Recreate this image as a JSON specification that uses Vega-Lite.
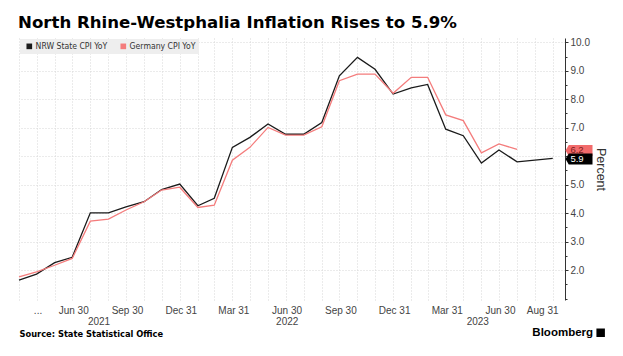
{
  "$schema": "https://vega.github.io/schema/vega-lite/v6.json",
  "width": 546,
  "height": 262,
  "autosize": {"type": "none"},
  "padding": {"left": 19, "top": 38, "right": 58, "bottom": 56},
  "background": "white",
  "title": {
    "text": "North Rhine-Westphalia Inflation Rises to 5.9%",
    "anchor": "start",
    "frame": "group",
    "font": "DejaVu Sans",
    "fontWeight": "bold",
    "fontSize": 16.6,
    "color": "#000000",
    "baseline": "alphabetic",
    "offset": 10,
    "dx": -1,
    "dy": 17
  },
  "config": {
    "view": {"stroke": null},
    "font": "Liberation Sans"
  },
  "datasets": {
    "cpi": [
      {"date": "2021-03-31", "series": "NRW State CPI YoY", "value": 1.65},
      {"date": "2021-04-30", "series": "NRW State CPI YoY", "value": 1.86},
      {"date": "2021-05-31", "series": "NRW State CPI YoY", "value": 2.26},
      {"date": "2021-06-30", "series": "NRW State CPI YoY", "value": 2.45},
      {"date": "2021-07-31", "series": "NRW State CPI YoY", "value": 4.01},
      {"date": "2021-08-31", "series": "NRW State CPI YoY", "value": 4.01},
      {"date": "2021-09-30", "series": "NRW State CPI YoY", "value": 4.22},
      {"date": "2021-10-31", "series": "NRW State CPI YoY", "value": 4.40},
      {"date": "2021-11-30", "series": "NRW State CPI YoY", "value": 4.83},
      {"date": "2021-12-31", "series": "NRW State CPI YoY", "value": 5.02},
      {"date": "2022-01-31", "series": "NRW State CPI YoY", "value": 4.26},
      {"date": "2022-02-28", "series": "NRW State CPI YoY", "value": 4.52},
      {"date": "2022-03-31", "series": "NRW State CPI YoY", "value": 6.31},
      {"date": "2022-04-30", "series": "NRW State CPI YoY", "value": 6.66},
      {"date": "2022-05-31", "series": "NRW State CPI YoY", "value": 7.13},
      {"date": "2022-06-30", "series": "NRW State CPI YoY", "value": 6.77},
      {"date": "2022-07-31", "series": "NRW State CPI YoY", "value": 6.77},
      {"date": "2022-08-31", "series": "NRW State CPI YoY", "value": 7.18},
      {"date": "2022-09-30", "series": "NRW State CPI YoY", "value": 8.82},
      {"date": "2022-10-31", "series": "NRW State CPI YoY", "value": 9.47},
      {"date": "2022-11-30", "series": "NRW State CPI YoY", "value": 9.05},
      {"date": "2022-12-31", "series": "NRW State CPI YoY", "value": 8.18},
      {"date": "2023-01-31", "series": "NRW State CPI YoY", "value": 8.40},
      {"date": "2023-02-28", "series": "NRW State CPI YoY", "value": 8.52},
      {"date": "2023-03-31", "series": "NRW State CPI YoY", "value": 6.95},
      {"date": "2023-04-30", "series": "NRW State CPI YoY", "value": 6.72},
      {"date": "2023-05-31", "series": "NRW State CPI YoY", "value": 5.76},
      {"date": "2023-06-30", "series": "NRW State CPI YoY", "value": 6.22},
      {"date": "2023-07-31", "series": "NRW State CPI YoY", "value": 5.80},
      {"date": "2023-09-30", "series": "NRW State CPI YoY", "value": 5.92},
      {"date": "2021-03-31", "series": "Germany CPI YoY", "value": 1.76},
      {"date": "2021-04-30", "series": "Germany CPI YoY", "value": 1.94},
      {"date": "2021-05-31", "series": "Germany CPI YoY", "value": 2.17},
      {"date": "2021-06-30", "series": "Germany CPI YoY", "value": 2.41},
      {"date": "2021-07-31", "series": "Germany CPI YoY", "value": 3.72},
      {"date": "2021-08-31", "series": "Germany CPI YoY", "value": 3.79},
      {"date": "2021-09-30", "series": "Germany CPI YoY", "value": 4.11},
      {"date": "2021-10-31", "series": "Germany CPI YoY", "value": 4.40},
      {"date": "2021-11-30", "series": "Germany CPI YoY", "value": 4.81},
      {"date": "2021-12-31", "series": "Germany CPI YoY", "value": 4.91},
      {"date": "2022-01-31", "series": "Germany CPI YoY", "value": 4.20},
      {"date": "2022-02-28", "series": "Germany CPI YoY", "value": 4.28},
      {"date": "2022-03-31", "series": "Germany CPI YoY", "value": 5.86},
      {"date": "2022-04-30", "series": "Germany CPI YoY", "value": 6.31},
      {"date": "2022-05-31", "series": "Germany CPI YoY", "value": 7.01},
      {"date": "2022-06-30", "series": "Germany CPI YoY", "value": 6.74},
      {"date": "2022-07-31", "series": "Germany CPI YoY", "value": 6.74},
      {"date": "2022-08-31", "series": "Germany CPI YoY", "value": 7.03},
      {"date": "2022-09-30", "series": "Germany CPI YoY", "value": 8.65},
      {"date": "2022-10-31", "series": "Germany CPI YoY", "value": 8.88},
      {"date": "2022-11-30", "series": "Germany CPI YoY", "value": 8.88},
      {"date": "2022-12-31", "series": "Germany CPI YoY", "value": 8.21},
      {"date": "2023-01-31", "series": "Germany CPI YoY", "value": 8.77},
      {"date": "2023-02-28", "series": "Germany CPI YoY", "value": 8.77},
      {"date": "2023-03-31", "series": "Germany CPI YoY", "value": 7.45},
      {"date": "2023-04-30", "series": "Germany CPI YoY", "value": 7.25},
      {"date": "2023-05-31", "series": "Germany CPI YoY", "value": 6.12},
      {"date": "2023-06-30", "series": "Germany CPI YoY", "value": 6.43},
      {"date": "2023-07-31", "series": "Germany CPI YoY", "value": 6.24}
    ],
    "tags": [
      {"series": "Germany CPI YoY", "value": 6.2, "label": "6.2"},
      {"series": "NRW State CPI YoY", "value": 5.9, "label": "5.9"}
    ],
    "brand": [
      {"label": "Bloomberg"}
    ]
  },
  "layer": [
    {
      "data": {"name": "cpi"},
      "mark": {"type": "line", "strokeWidth": 1.3, "interpolate": "linear"},
      "encoding": {
        "x": {
          "field": "date",
          "type": "temporal",
          "scale": {
            "type": "utc",
            "domain": [
              {"year": 2021, "month": 3, "date": 31, "utc": true},
              {"year": 2023, "month": 10, "date": 21, "utc": true}
            ],
            "nice": false
          },
          "axis": {
            "orient": "bottom",
            "title": null,
            "values": [
              {"year": 2021, "month": 3, "date": 31, "utc": true},
              {"year": 2021, "month": 4, "date": 30, "utc": true},
              {"year": 2021, "month": 5, "date": 31, "utc": true},
              {"year": 2021, "month": 6, "date": 30, "utc": true},
              {"year": 2021, "month": 7, "date": 31, "utc": true},
              {"year": 2021, "month": 8, "date": 31, "utc": true},
              {"year": 2021, "month": 9, "date": 30, "utc": true},
              {"year": 2021, "month": 10, "date": 31, "utc": true},
              {"year": 2021, "month": 11, "date": 30, "utc": true},
              {"year": 2021, "month": 12, "date": 31, "utc": true},
              {"year": 2022, "month": 1, "date": 31, "utc": true},
              {"year": 2022, "month": 2, "date": 28, "utc": true},
              {"year": 2022, "month": 3, "date": 31, "utc": true},
              {"year": 2022, "month": 4, "date": 30, "utc": true},
              {"year": 2022, "month": 5, "date": 31, "utc": true},
              {"year": 2022, "month": 6, "date": 30, "utc": true},
              {"year": 2022, "month": 7, "date": 31, "utc": true},
              {"year": 2022, "month": 8, "date": 31, "utc": true},
              {"year": 2022, "month": 9, "date": 30, "utc": true},
              {"year": 2022, "month": 10, "date": 31, "utc": true},
              {"year": 2022, "month": 11, "date": 30, "utc": true},
              {"year": 2022, "month": 12, "date": 31, "utc": true},
              {"year": 2023, "month": 1, "date": 31, "utc": true},
              {"year": 2023, "month": 2, "date": 28, "utc": true},
              {"year": 2023, "month": 3, "date": 31, "utc": true},
              {"year": 2023, "month": 4, "date": 30, "utc": true},
              {"year": 2023, "month": 5, "date": 31, "utc": true},
              {"year": 2023, "month": 6, "date": 30, "utc": true},
              {"year": 2023, "month": 7, "date": 31, "utc": true},
              {"year": 2023, "month": 8, "date": 31, "utc": true},
              {"year": 2023, "month": 9, "date": 30, "utc": true}
            ],
            "labelExpr": "(utcyear(datum.value) == 2021 && utcmonth(datum.value) == 3) ? '...' : (utcyear(datum.value) == 2023 && utcmonth(datum.value) == 7) ? 'Aug 31' : (utcmonth(datum.value) % 3 == 2 && !(utcyear(datum.value) == 2021 && utcmonth(datum.value) == 2) && !(utcyear(datum.value) == 2023 && utcmonth(datum.value) == 8)) ? utcFormat(datum.value, '%b %d') : ''",
            "labelOffset": {"condition": {"test": "utcyear(datum.value) == 2023 && utcmonth(datum.value) == 7", "value": 7}, "value": 1},
            "domain": false,
            "ticks": false,
            "tickSize": 0,
            "grid": true,
            "gridColor": "#d6d6d6",
            "gridDash": [1, 2],
            "gridWidth": 1,
            "labelPadding": 5,
            "labelFont": "Liberation Sans",
            "labelFontSize": 10,
            "labelColor": "#444444",
            "labelOverlap": false,
            "labelFlush": false
          }
        },
        "y": {
          "field": "value",
          "type": "quantitative",
          "title": "Percent",
          "scale": {"domain": [0.95, 10.15], "nice": false, "zero": false},
          "axis": {
            "orient": "right",
            "title": "Percent",
            "values": [2, 3, 4, 5, 6, 7, 8, 9, 10],
            "format": ".1f",
            "tickSize": 3,
            "grid": true,
            "gridColor": "#d6d6d6",
            "gridDash": [1, 2],
            "gridWidth": 1,
            "domainColor": "#333333",
            "domainWidth": 1,
            "tickColor": "#333333",
            "tickWidth": 1,
            "labelPadding": 2,
            "labelFont": "Liberation Sans",
            "labelFontSize": 10,
            "labelColor": "#444444",
            "labelOverlap": false,
            "labelFlush": false,
            "labelBound": false,
            "titleFont": "Liberation Sans",
            "titleFontSize": 12.5,
            "titleFontWeight": "normal",
            "titleColor": "#333333",
            "titleAngle": 90,
            "titlePadding": 4
          }
        },
        "color": {
          "field": "series",
          "type": "nominal",
          "scale": {
            "domain": ["NRW State CPI YoY", "Germany CPI YoY"],
            "range": ["#1a1a1a", "#f47c7c"]
          },
          "legend": {
            "title": null,
            "orient": "top-left",
            "offset": 1,
            "direction": "horizontal",
            "fillColor": "#eeeeee",
            "padding": 3,
            "symbolType": "square",
            "symbolSize": 32,
            "symbolStrokeWidth": 0,
            "symbolOffset": 2,
            "labelFont": "DejaVu Sans Condensed, Liberation Sans Narrow, Liberation Sans",
            "labelFontSize": 8.6,
            "labelColor": "#333333",
            "labelOffset": 2,
            "columnPadding": 9,
            "encode": {
              "symbols": {
                "update": {
                  "fill": {"scale": "color", "field": "value"},
                  "opacity": {"value": 1}
                }
              }
            }
          }
        }
      }
    },
    {
      "data": {"name": "tags"},
      "transform": [{"filter": "datum.series == 'Germany CPI YoY'"}],
      "mark": {"type": "point", "shape": "M-1,0L-0.76,-0.41L1,-0.41L1,0.41L-0.76,0.41Z", "filled": true, "size": 729, "color": "#f26b6b", "opacity": 1, "strokeWidth": 0},
      "encoding": {
        "x": {"datum": {"year": 2023, "month": 11, "date": 14, "utc": true}, "type": "temporal", "scale": {"type": "utc", "domain": [{"year": 2021, "month": 3, "date": 31, "utc": true}, {"year": 2023, "month": 10, "date": 21, "utc": true}], "nice": false}, "axis": null},
        "y": {
          "field": "value",
          "type": "quantitative",
          "title": null,
          "scale": {"domain": [0.95, 10.15], "nice": false, "zero": false},
          "axis": {
            "orient": "right",
            "title": null,
            "values": [1, 1.5, 2.5, 3.5, 4.5, 5.5, 6.5, 7.5, 8.5, 9.5],
            "labels": false,
            "grid": false,
            "domain": false,
            "ticks": true,
            "tickSize": 2,
            "tickColor": "#333333",
            "tickWidth": 1
          }
        }
      }
    },
    {
      "data": {"name": "tags"},
      "transform": [{"filter": "datum.series == 'Germany CPI YoY'"}],
      "mark": {"type": "text", "color": "#7a1c1c", "font": "Liberation Sans", "fontSize": 9.5, "dx": -2, "align": "center", "baseline": "middle"},
      "encoding": {
        "x": {"datum": {"year": 2023, "month": 11, "date": 14, "utc": true}, "type": "temporal", "scale": {"type": "utc", "domain": [{"year": 2021, "month": 3, "date": 31, "utc": true}, {"year": 2023, "month": 10, "date": 21, "utc": true}], "nice": false}, "axis": null},
        "y": {"field": "value", "type": "quantitative", "scale": {"domain": [0.95, 10.15], "nice": false, "zero": false}, "axis": null},
        "text": {"field": "label"}
      }
    },
    {
      "data": {"name": "tags"},
      "transform": [{"filter": "datum.series == 'NRW State CPI YoY'"}],
      "mark": {"type": "point", "shape": "M-1,0L-0.76,-0.41L1,-0.41L1,0.41L-0.76,0.41Z", "filled": true, "size": 729, "color": "#000000", "opacity": 1, "strokeWidth": 0},
      "encoding": {
        "x": {"datum": {"year": 2023, "month": 11, "date": 14, "utc": true}, "type": "temporal", "scale": {"type": "utc", "domain": [{"year": 2021, "month": 3, "date": 31, "utc": true}, {"year": 2023, "month": 10, "date": 21, "utc": true}], "nice": false}, "axis": null},
        "y": {"field": "value", "type": "quantitative", "scale": {"domain": [0.95, 10.15], "nice": false, "zero": false}, "axis": null}
      }
    },
    {
      "data": {"name": "tags"},
      "transform": [{"filter": "datum.series == 'NRW State CPI YoY'"}],
      "mark": {"type": "text", "color": "#ffffff", "font": "Liberation Sans", "fontSize": 9.5, "dx": -2, "align": "center", "baseline": "middle"},
      "encoding": {
        "x": {"datum": {"year": 2023, "month": 11, "date": 14, "utc": true}, "type": "temporal", "scale": {"type": "utc", "domain": [{"year": 2021, "month": 3, "date": 31, "utc": true}, {"year": 2023, "month": 10, "date": 21, "utc": true}], "nice": false}, "axis": null},
        "y": {"field": "value", "type": "quantitative", "scale": {"domain": [0.95, 10.15], "nice": false, "zero": false}, "axis": null},
        "text": {"field": "label"}
      }
    },
    {
      "data": {"name": "brand"},
      "mark": {"type": "text", "align": "right", "baseline": "middle", "font": "Liberation Sans", "fontWeight": "bold", "fontSize": 11.5, "color": "#000000"},
      "encoding": {
        "x": {
          "datum": {"year": 2023, "month": 12, "date": 8, "utc": true},
          "type": "temporal",
          "scale": {"type": "utc", "domain": [{"year": 2021, "month": 3, "date": 31, "utc": true}, {"year": 2023, "month": 10, "date": 21, "utc": true}], "nice": false},
          "axis": {
            "orient": "bottom",
            "values": [
              {"year": 2021, "month": 8, "date": 14, "utc": true},
              {"year": 2022, "month": 7, "date": 2, "utc": true},
              {"year": 2023, "month": 5, "date": 24, "utc": true}
            ],
            "labelExpr": "utcFormat(datum.value, '%Y')",
            "domain": false,
            "ticks": false,
            "tickSize": 0,
            "grid": false,
            "labelPadding": 16,
            "labelFont": "Liberation Sans",
            "labelFontSize": 10,
            "labelColor": "#444444",
            "labelOverlap": false,
            "labelFlush": false,
            "title": "Source: State Statistical Office",
            "titleAnchor": "start",
            "titleAlign": "left",
            "titleFont": "DejaVu Sans",
            "titleFontWeight": "bold",
            "titleFontSize": 8.3,
            "titleColor": "#000000",
            "titlePadding": 3
          }
        },
        "y": {"datum": -0.2, "type": "quantitative", "scale": {"domain": [0.95, 10.15], "nice": false, "zero": false}, "axis": null},
        "text": {"field": "label"}
      }
    },
    {
      "data": {"name": "brand"},
      "mark": {"type": "point", "shape": "square", "filled": true, "size": 72, "color": "#000000", "opacity": 1},
      "encoding": {
        "x": {"datum": {"year": 2023, "month": 12, "date": 21, "utc": true}, "type": "temporal", "scale": {"type": "utc", "domain": [{"year": 2021, "month": 3, "date": 31, "utc": true}, {"year": 2023, "month": 10, "date": 21, "utc": true}], "nice": false}, "axis": null},
        "y": {"datum": -0.2, "type": "quantitative", "scale": {"domain": [0.95, 10.15], "nice": false, "zero": false}, "axis": null}
      }
    }
  ],
  "resolve": {"axis": {"x": "independent", "y": "independent"}}
}
